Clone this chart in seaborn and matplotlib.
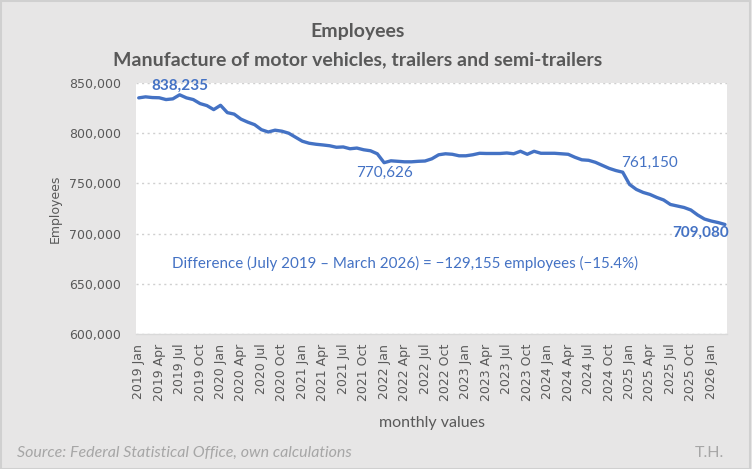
import numpy as np
import pandas as pd
import matplotlib
matplotlib.use("Agg")
import matplotlib.pyplot as plt
import seaborn as sns
from matplotlib.patches import Rectangle

# Datos mensuales (empleados), enero 2019 - marzo 2026
years = list(range(2019, 2027))
month_names = ["Jan", "Feb", "Mar", "Apr", "May", "Jun",
               "Jul", "Aug", "Sep", "Oct", "Nov", "Dec"]

employees = [
    835200, 836200, 835500, 835300, 833500, 834200, 838235, 835200, 833500, 829500, 827500, 823500,
    827800, 820500, 819000, 814000, 811000, 808500, 803500, 801200, 803000, 802000, 800000, 796000,
    792000, 790000, 789000, 788300, 787500, 786000, 786300, 784500, 785200, 783500, 782500, 779500,
    770626, 772500, 772000, 771500, 771500, 772000, 772300, 774500, 778500, 779500, 779000, 777500,
    777500, 778500, 780000, 779800, 779800, 779800, 780300, 779500, 782000, 779000, 782000, 780000,
    780000, 780000, 779500, 779000, 776000, 773500, 773000, 771000, 768000, 765000, 762800, 761150,
    749000, 744000, 741000, 739000, 736000, 733500, 729000, 727500, 726000, 723500, 718500, 714500,
    712500, 711000, 709080,
]

labels = [f"{y} {m}" for y in years for m in month_names][:len(employees)]
df = pd.DataFrame({"idx": range(len(employees)), "label": labels, "employees": employees})

blue = "#4472C4"
grey_txt = "#595959"
bg = "#E7E6E6"

sns.set_style("white")
plt.rcParams["font.family"] = ["DejaVu Sans"]

fig = plt.figure(figsize=(7.52, 4.69), dpi=100, facecolor=bg)
ax = fig.add_axes([136 / 752, 1 - 334 / 469, (727 - 136) / 752, (334 - 83) / 469])
ax.set_facecolor("white")

sns.lineplot(data=df, x="idx", y="employees", ax=ax, color=blue, linewidth=2.4)

ax.set_xlim(-0.4, len(employees) - 0.7)
ax.set_ylim(600000, 850000)
ax.set_yticks(range(600000, 850001, 50000))
ax.set_yticklabels([f"{v:,}" for v in range(600000, 850001, 50000)],
                   color=grey_txt, fontsize=9, family="DejaVu Sans")
ticks = list(range(0, len(employees), 3))
ax.set_xticks(ticks)
ax.set_xticklabels([labels[i] for i in ticks], rotation=90, color=grey_txt,
                   fontsize=9, family="DejaVu Sans")
ax.tick_params(axis="y", length=0, pad=11)
ax.tick_params(axis="x", length=0, pad=7)

ax.grid(axis="y", linestyle=(0, (1.5, 2.5)), color="#D0D0D0", linewidth=1)
ax.grid(axis="x", visible=False)
for s in ["top", "left", "right"]:
    ax.spines[s].set_visible(False)
ax.spines["bottom"].set_color("#D9D9D9")
ax.spines["bottom"].set_linewidth(1)

ax.set_xlabel("")
ax.set_ylabel("Employees", color=grey_txt, fontsize=9, labelpad=5, family="DejaVu Sans")

# Etiquetas de valores
peak = employees.index(838235)
low = employees.index(770626)
pre = employees.index(761150)
last = len(employees) - 1
ax.text(peak, employees[peak] + 1800, "838,235", color=blue, fontsize=11, fontweight="bold",
        family="Lato", ha="center", va="bottom")
ax.text(low, employees[low] - 3500, "770,626", color=blue, fontsize=11,
        family="Lato", ha="center", va="top")
ax.text(pre + 4, employees[pre] + 2500, "761,150", color=blue, fontsize=11,
        family="Lato", ha="center", va="bottom")
ax.text(last - 3.5, employees[last] - 1500, "709,080", color=blue, fontsize=11, fontweight="bold",
        family="Lato", ha="center", va="top")

diff = employees[last] - employees[peak]
pct = diff / employees[peak] * 100
ax.text(0.455, 0.28,
        f"Difference (July 2019 \u2013 March 2026) = \u2212{abs(diff):,} employees (\u2212{abs(pct):.1f}%)",
        transform=ax.transAxes, color=blue, fontsize=10.9, family="Lato", ha="center", va="center")

# Títulos y textos
fig.text(358 / 752, 1 - 31 / 469, "Employees", ha="center", va="center",
         fontsize=14, fontweight="bold", color=grey_txt, family="Lato")
fig.text(358 / 752, 1 - 60 / 469, "Manufacture of motor vehicles, trailers and semi-trailers",
         ha="center", va="center", fontsize=14, fontweight="bold", color=grey_txt, family="Lato")
fig.text(432 / 752, 1 - 423 / 469, "monthly values", ha="center", va="center",
         fontsize=11.5, color=grey_txt, family="Lato")
fig.text(17 / 752, 1 - 453 / 469, "Source: Federal Statistical Office, own calculations",
         ha="left", va="center", fontsize=11.5, style="italic", color="#A6A6A6", family="Lato")
fig.text(724 / 752, 1 - 453 / 469, "T.H.", ha="right", va="center",
         fontsize=11.5, color="#A6A6A6", family="Lato")

fig.patches.append(Rectangle((0.001, 0.001), 0.997, 0.997, transform=fig.transFigure,
                             fill=False, edgecolor="#D0D0D0", linewidth=1.5))

fig.savefig("out.png", dpi=100, facecolor=bg)
